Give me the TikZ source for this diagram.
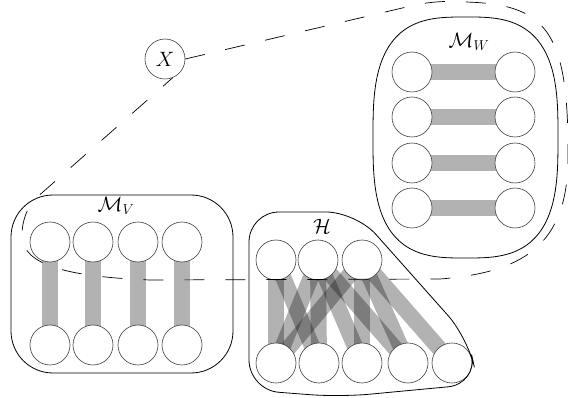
\documentclass[tikz,border=0pt]{standalone}
\usepackage{tikz}
\pgfdeclarelayer{edges}
\pgfsetlayers{edges,main}
\begin{document}
\begin{tikzpicture}[x=1pt,y=-1pt,
  vtx/.style={circle,draw=black!75,line width=0.6pt,fill=white,minimum size=40pt,inner sep=0pt},
  bar/.style={draw=black,draw opacity=0.3,line width=16pt},
  region/.style={draw=black,line width=0.8pt},
  lbl/.style={inner sep=0pt,font=\fontsize{20}{24}\selectfont},
  loop/.style={draw=black,line width=0.7pt,dash pattern=on 20pt off 21pt}]
\useasboundingbox (0,0) rectangle (568,398);

% ---- group M_V : four matched pairs
\foreach \i/\x in {1/50,2/93,3/138,4/182}{
  \node[vtx] (vt\i) at (\x,242) {};
  \node[vtx] (vb\i) at (\x,345) {};
}
% ---- group M_W : four matched pairs
\foreach \i/\y in {1/72,2/117,3/163,4/208}{
  \node[vtx] (wl\i) at (412,\y) {};
  \node[vtx] (wr\i) at (515,\y) {};
}
% ---- group H : three top vertices, five bottom vertices
\foreach \i/\x in {1/276,2/318,3/362}{
  \node[vtx] (ht\i) at (\x,260) {};
}
\foreach \i/\x in {1/276,2/319,3/362,4/408,5/452}{
  \node[vtx] (hb\i) at (\x,363) {};
}
\node[vtx] (X) at (165,59) {\fontsize{20}{24}\selectfont$X$};

% ---- edges, kept beneath the vertices
\begin{pgfonlayer}{edges}
\foreach \i in {1,...,4}{
  \draw[bar] (vt\i.center) -- (vb\i.center);
  \draw[bar] (wl\i.center) -- (wr\i.center);
}
\foreach \a/\b in {1/1,1/2,2/1,2/2,2/3,2/4,3/1,3/3,3/4,3/5}{
  \draw[bar] (ht\a.center) -- (hb\b.center);
}
\end{pgfonlayer}

% ---- region outlines
\draw[region,rounded corners=42pt] (11,195) rectangle (233,373);
% superellipse (exponent 3) around M_W
\draw[region] plot[domain=1:357,samples=90,smooth]
  ({465.5+92.5*sign(cos(\x))*pow(abs(cos(\x)),2/3)},
   {137.5+120.5*sign(sin(\x))*pow(abs(sin(\x)),2/3)}) -- cycle;
\draw[region,rounded corners=30pt]
  (249,390) -- (249,212) -- (356,212) -- (468,338) -- (478,384) -- (340,397) -- cycle;

% ---- labels
\node[lbl] (lV) at (116,206) {$\mathcal{M}_V$};
\node[lbl] (lW) at (469,42) {$\mathcal{M}_W$};
\node[lbl] (lH) at (322,226) {$\mathcal{H}$};

% ---- dashed loop through X
\coordinate (t1) at (415,5);
\coordinate (t2) at (465,2);
\coordinate (rgt) at (568,150);
\coordinate (br) at (440,279);
\coordinate (mid) at (150,280);
\coordinate (lft) at (22,232);
\coordinate (ul) at (35,199);
\draw[loop] (X.east) -- (t1)
  .. controls (435,1) and (450,1) .. (t2)
  .. controls (545,4) and (568,30) .. (rgt)
  .. controls (570,240) and (530,272) .. (br)
  -- (mid)
  .. controls (50,276) and (20,260) .. (lft)
  .. controls (23,218) and (28,207) .. (ul)
  -- (X.-68);
\end{tikzpicture}
\end{document}
